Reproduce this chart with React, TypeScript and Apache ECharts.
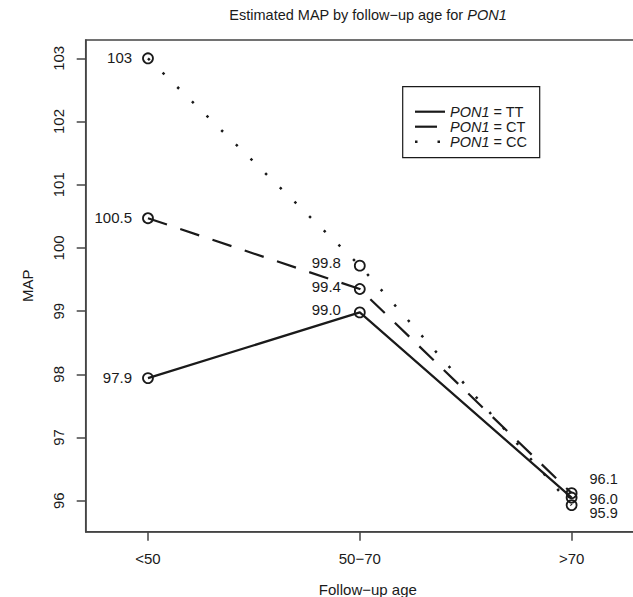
import React, { useEffect, useRef } from "react";
import * as echarts from "echarts";

// ---- data ----
const categories = ["<50", "50\u221270", ">70"];
const xPositions = [1, 2, 3];
const yTicks = [96, 97, 98, 99, 100, 101, 102, 103];
const ttValues = [97.94, 98.98, 96.05];
const ctValues = [100.47, 99.35, 96.12];
const ccValues = [103.0, 99.72, 95.93];
const ttLabels = ["97.9", "99.0", "96.0"];
const ctLabels = ["100.5", "99.4", "96.1"];
const ccLabels = ["103", "99.8", "95.9"];
const seriesNames = ["TT", "CT", "CC"];

const FONT = "Liberation Sans, Arial, Helvetica, sans-serif";
const INK = "#1a1a1a";
const FS = 15;

export default function App() {
  const ref = useRef<HTMLDivElement>(null);
  useEffect(() => {
    if (!ref.current) return;
    const chart = echarts.init(ref.current, null, { renderer: "svg" });

    const endOffsets: Record<string, number> = { TT: 1, CT: -14, CC: 8 };
    const build = (vals: number[], labels: string[], name: string) =>
      vals.map((v, i) => ({
        value: [xPositions[i], v],
        label: {
          show: true,
          formatter: labels[i],
          position: i === 2 ? "right" : "left",
          distance: i === 0 ? 10 : i === 1 ? 13 : 12,
          offset: i === 2 ? [0, endOffsets[name]] : i === 1 ? [0, -3] : [0, -1],
          fontSize: i === 2 ? 14.5 : FS,
          lineHeight: i === 2 ? 14 : undefined,
          fontFamily: FONT,
          color: INK,
        },
      }));

    const lineStyles: any = {
      TT: { type: "solid", width: 2.2 },
      CT: { type: [20, 14], width: 2.2 },
      CC: { type: [2.5, 18], width: 2.5, cap: "butt" },
    };
    const datasets: Record<string, [number[], string[]]> = {
      TT: [ttValues, ttLabels],
      CT: [ctValues, ctLabels],
      CC: [ccValues, ccLabels],
    };

    const series = seriesNames.map((n) => ({
      name: n,
      type: "line",
      data: build(datasets[n][0], datasets[n][1], n),
      symbol: "circle",
      symbolSize: 10,
      itemStyle: { color: "rgba(0,0,0,0)", borderColor: INK, borderWidth: 1.8 },
      lineStyle: { color: INK, ...lineStyles[n] },
      emphasis: { disabled: true },
      z: 2,
    }));

    const legendTop = 86.7;
    const legendLeft = 402.7;
    const rowY = [111.7, 126.7, 141.7];
    const legendLineStyles = [
      { lineWidth: 2.2 },
      { lineWidth: 2.2, lineDash: [22, 14] },
      { lineWidth: 2.5, lineDash: [2.5, 20] },
    ];

    const graphic: any[] = [
      {
        type: "text",
        x: 368,
        y: 15,
        style: {
          text: "Estimated MAP by follow\u2212up age for {i|PON1}",
          fontSize: 14.5,
          fontFamily: FONT,
          fill: INK,
          align: "center",
          verticalAlign: "middle",
          rich: { i: { fontStyle: "italic", fontSize: 14.5, fontFamily: FONT, fill: INK } },
        },
      },
      {
        type: "rect",
        shape: { x: legendLeft, y: legendTop, width: 137, height: 71 },
        style: { fill: "#fff", stroke: INK, lineWidth: 1.2 },
        z: 10,
      },
    ];
    seriesNames.forEach((n, i) => {
      graphic.push({
        type: "line",
        shape: { x1: 415, y1: rowY[i], x2: 445, y2: rowY[i] },
        style: { stroke: INK, ...legendLineStyles[i] },
        z: 11,
      });
      graphic.push({
        type: "text",
        x: 450,
        y: rowY[i],
        style: {
          text: "{i|PON1} = " + n,
          fontSize: 14.5,
          fontFamily: FONT,
          fill: INK,
          lineHeight: 13,
          verticalAlign: "middle",
          rich: { i: { fontStyle: "italic", fontSize: 14.5, lineHeight: 13, fontFamily: FONT, fill: INK } },
        },
        z: 11,
      });
    });

    chart.setOption({
      animation: false,
      grid: {
        left: 85.7,
        top: 40,
        bottom: 65.3,
        right: -17,
        outerBoundsMode: "none",
        containLabel: false,
        show: true,
        borderColor: "#444",
        borderWidth: 1.5,
        backgroundColor: "transparent",
      },
      xAxis: {
        type: "value",
        min: 0.706,
        max: 3.37,
        name: "Follow\u2212up age",
        nameLocation: "middle",
        nameGap: 50,
        nameTextStyle: { fontSize: FS, fontFamily: FONT, color: INK },
        axisLine: { show: true, lineStyle: { color: "#444", width: 1.5 } },
        axisTick: { show: true, length: 9, customValues: xPositions, lineStyle: { color: "#444", width: 1.5 } },
        axisLabel: {
          customValues: xPositions,
          formatter: (v: number) => categories[Math.round(v) - 1] ?? "",
          fontSize: FS,
          fontFamily: FONT,
          color: INK,
          margin: 19,
        },
        splitLine: { show: false },
      },
      yAxis: {
        type: "value",
        min: 95.51,
        max: 103.29,
        name: "MAP",
        nameLocation: "middle",
        nameGap: 51,
        nameRotate: 90,
        nameTextStyle: { fontSize: FS, fontFamily: FONT, color: INK },
        axisLine: { show: true, lineStyle: { color: "#444", width: 1.5 } },
        axisTick: { show: true, length: 9, customValues: yTicks, lineStyle: { color: "#444", width: 1.5 } },
        axisLabel: {
          customValues: yTicks,
          rotate: 90,
          fontSize: FS,
          fontFamily: FONT,
          color: INK,
          margin: 20,
        },
        splitLine: { show: false },
      },
      series,
      graphic,
    } as any);
    return () => chart.dispose();
  }, []);

  return (
    <div
      ref={ref}
      style={{ position: "fixed", left: 0, top: 0, width: 633, height: 597, background: "#fff" }}
    />
  );
}
